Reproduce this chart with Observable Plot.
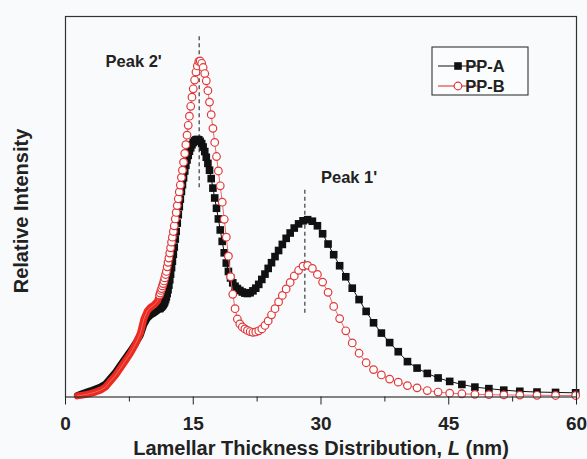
<!DOCTYPE html>
<html><head><meta charset="utf-8">
<script src="https://cdn.jsdelivr.net/npm/d3@7"></script>
<script src="https://cdn.jsdelivr.net/npm/@observablehq/plot@0.6"></script>
<style>
html,body{margin:0;padding:0;background:#f9fafc;}
#chart{width:587px;height:459px;}
</style></head><body><div id="chart"></div>
<script>
// Lamellar thickness L (nm), shared by both series
const L_nm = [
  1.4, 2.0, 2.5, 2.9, 3.5, 4.1, 4.7, 5.3, 5.9, 6.4, 7.0, 7.6, 8.2, 8.8, 9.2, 9.6, 10.0, 10.4, 10.8,
  11.04, 11.12, 11.21, 11.29, 11.38, 11.47, 11.56, 11.65, 11.75, 11.84,
  11.94, 12.04, 12.14, 12.24, 12.34, 12.45, 12.55, 12.66, 12.77, 12.89,
  13.00, 13.12, 13.24, 13.36, 13.48, 13.61, 13.73, 13.86, 14.00, 14.13,
  14.27, 14.41, 14.55, 14.70, 14.85, 15.00, 15.16, 15.32, 15.48, 15.65,
  15.81, 15.99, 16.16, 16.35, 16.53, 16.72, 16.91, 17.11, 17.31, 17.52,
  17.73, 17.95, 18.17, 18.40, 18.64, 18.88, 19.13, 19.38, 19.64, 19.91,
  20.18, 20.47, 20.76, 21.06, 21.36, 21.68, 22.01, 22.34, 22.69, 23.05,
  23.42, 23.80, 24.19, 24.60, 25.02, 25.46, 25.91, 26.38, 26.86, 27.37,
  27.89, 28.43, 28.99, 29.58, 30.19, 30.83, 31.49, 32.19, 32.91, 33.67,
  34.47, 35.30, 36.17, 37.09, 38.06, 39.07, 40.15, 41.28, 42.48, 43.75,
  45.11, 46.54, 48.07, 49.71, 51.46, 53.34, 55.36, 57.54, 59.90
];
// PP-A relative intensity
const ppA = [
  0.4, 0.9, 1.3, 1.6, 2.1, 2.6, 3.4, 5.0, 6.6, 8.2, 10.1, 12.0, 14.0, 16.3, 19.0, 20.6, 21.5, 22.0, 22.7,
  23.2, 23.4, 23.6, 23.8, 24.0, 24.3, 24.6, 25.0, 25.6, 26.3,
  27.2, 28.2, 29.4, 30.8, 32.3, 34.0, 35.7, 37.5, 39.4, 41.5,
  43.5, 45.7, 47.9, 50.0, 52.0, 54.0, 55.8, 57.6, 59.4, 60.9,
  62.3, 63.5, 64.6, 65.5, 66.3, 66.9, 67.3, 67.6, 67.7, 67.6,
  67.2, 66.6, 65.7, 64.5, 63.0, 61.4, 59.6, 57.4, 54.9, 52.3,
  49.6, 46.8, 43.9, 40.9, 37.9, 35.2, 33.0, 31.3, 30.0, 29.1,
  28.5, 28.0, 27.6, 27.3, 27.2, 27.4, 27.9, 28.6, 29.6, 30.9,
  32.3, 33.8, 35.3, 36.9, 38.5, 40.1, 41.7, 43.1, 44.4, 45.5,
  46.3, 46.6, 46.2, 45.0, 42.9, 40.2, 37.4, 34.5, 31.6, 28.6,
  25.6, 22.5, 19.5, 16.8, 14.3, 11.9, 9.3, 7.6, 6.2, 5.0,
  4.1, 3.3, 2.6, 2.2, 1.8, 1.5, 1.3, 1.2, 1.1
];
// PP-B relative intensity
const ppB = [
  0.3, 0.5, 0.7, 0.9, 1.3, 1.8, 2.6, 4.2, 5.8, 7.4, 9.4, 11.4, 13.8, 16.8, 20.5, 22.6, 23.6, 24.2, 25.2,
  26.8, 27.3, 28.0, 28.5, 29.2, 29.8, 30.5, 31.3, 32.2, 33.0,
  34.2, 35.4, 36.5, 37.8, 39.2, 40.7, 42.0, 43.5, 45.0, 46.8,
  48.5, 50.3, 52.1, 53.9, 55.7, 57.7, 59.6, 61.7, 64.0, 66.3,
  68.8, 71.4, 73.8, 76.4, 78.8, 81.0, 83.3, 85.4, 87.0, 88.2,
  88.3, 87.7, 86.6, 85.0, 83.1, 80.5, 77.5, 74.2, 70.6, 66.9,
  63.2, 59.4, 55.5, 51.2, 46.7, 42.0, 37.0, 31.6, 27.0, 23.2,
  20.5, 19.2, 18.4, 17.9, 17.5, 17.2, 17.0, 17.1, 17.4, 17.9,
  18.8, 20.0, 21.6, 23.2, 25.0, 26.7, 28.4, 30.1, 31.8, 33.3,
  34.4, 34.6, 33.8, 32.2, 30.2, 27.5, 23.8, 20.6, 17.4, 14.2,
  11.5, 9.0, 7.2, 5.8, 4.7, 3.9, 3.0, 2.4, 1.7, 1.3,
  1.0, 0.85, 0.7, 0.6, 0.55, 0.5, 0.45, 0.4, 0.4
];
const seriesNames = ["PP-A", "PP-B"];
const xTicks = [0, 15, 30, 45, 60];
const xMinorTicks = [7.5, 22.5, 37.5, 52.5];
// peak annotations
const peakNames = ["Peak 2'", "Peak 1'"];
const peakL = [15.7, 28.1];
const peakLineLow = [55, 22];
const peakLineHigh = [95, 54.7];
const peakLabelL = [8.0, 33.3];
const peakLabelI = [88.2, 57.7];
const denseLimit = 11.05; // below this the symbols merge into a solid band

const rows = L_nm.map((L, i) => ({L, A: ppA[i], B: ppB[i]}));
const band = rows.filter(d => d.L <= denseLimit);
const sym = rows.filter(d => d.L >= 11);
const peaks = peakNames.map((name, i) => ({name, L: peakL[i], lo: peakLineLow[i], hi: peakLineHigh[i], lx: peakLabelL[i], ly: peakLabelI[i]}));

const red = "#e0393a";
const chart = Plot.plot({
  width: 587, height: 459,
  marginLeft: 65, marginRight: 11, marginTop: 16, marginBottom: 62.5,
  style: {background: "#f9fafc", fontFamily: "'Liberation Sans', Arial, sans-serif", color: "#222", fontWeight: "bold"},
  x: {domain: [0, 60]},
  y: {domain: [0, 100], axis: null},
  marks: [
    Plot.ruleX(peaks, {x: "L", y1: "lo", y2: "hi", stroke: "#555", strokeWidth: 1.4, strokeDasharray: "4,3"}),
    Plot.line(band, {x: "L", y: "A", stroke: "#111", strokeWidth: 7, strokeLinecap: "round", strokeLinejoin: "round"}),
    Plot.line(rows, {x: "L", y: "A", stroke: "#111", strokeWidth: 1}),
    Plot.dot(sym, {x: "L", y: "A", symbol: "square", r: 4.3, fill: "#111", stroke: "none"}),
    Plot.line(band, {x: "L", y: "B", stroke: "#ec2a1e", strokeWidth: 7, strokeLinecap: "round", strokeLinejoin: "round"}),
    Plot.line(rows, {x: "L", y: "B", stroke: "#e86a6a", strokeWidth: 1}),
    Plot.dot(sym, {x: "L", y: "B", r: 3.8, fill: "#ffffff", stroke: red, strokeWidth: 1.2}),
    Plot.text(peaks, {x: "lx", y: "ly", text: "name", fontSize: 16.5, fontWeight: "bold", fill: "#222"}),
    Plot.frame({stroke: "#333", strokeWidth: 1.2}),
    Plot.axisX({ticks: xTicks, tickSize: 8, tickPadding: 11, fontSize: 19, fontWeight: "bold", label: null, tickFormat: d => String(d)}),
    Plot.axisX({ticks: xMinorTicks, tickSize: 5, tickFormat: () => "", label: null})
  ]
});
document.getElementById("chart").appendChild(chart);

const svg = d3.select(chart);
const font = "'Liberation Sans', Arial, sans-serif";
// x label with italic L
const xl = svg.append("text").attr("x", 321).attr("y", 455).attr("text-anchor", "middle")
  .attr("font-family", font).attr("font-size", 20).attr("font-weight", "bold").attr("fill", "#222");
xl.append("tspan").text("Lamellar Thickness Distribution, ");
xl.append("tspan").attr("font-style", "italic").text("L");
xl.append("tspan").text(" (nm)");
// y label
svg.append("text").attr("transform", "translate(28,211) rotate(-90)").attr("text-anchor", "middle")
  .attr("font-family", font).attr("font-size", 20).attr("font-weight", "bold").attr("fill", "#222")
  .text("Relative Intensity");
// legend
const lg = svg.append("g").attr("transform", "translate(432,47)");
lg.append("rect").attr("width", 96).attr("height", 48).attr("fill", "#fbfcfd").attr("stroke", "#333").attr("stroke-width", 1.1);
seriesNames.forEach((name, i) => {
  const yy = 19 + i * 20;
  lg.append("line").attr("x1", 6).attr("x2", 46).attr("y1", yy).attr("y2", yy)
    .attr("stroke", i ? "#e86a6a" : "#111").attr("stroke-width", i ? 1.4 : 1.2);
  if (i === 0) lg.append("rect").attr("x", 26 - 3.8).attr("y", yy - 3.8).attr("width", 7.6).attr("height", 7.6).attr("fill", "#111");
  else lg.append("circle").attr("cx", 26).attr("cy", yy).attr("r", 3.8).attr("fill", "#fff").attr("stroke", red).attr("stroke-width", 1.2);
  lg.append("text").attr("x", 53).attr("y", yy + 6).attr("font-family", font).attr("font-size", 16.5)
    .attr("font-weight", "bold").attr("fill", "#222").text(name);
});
</script>
</body></html>
